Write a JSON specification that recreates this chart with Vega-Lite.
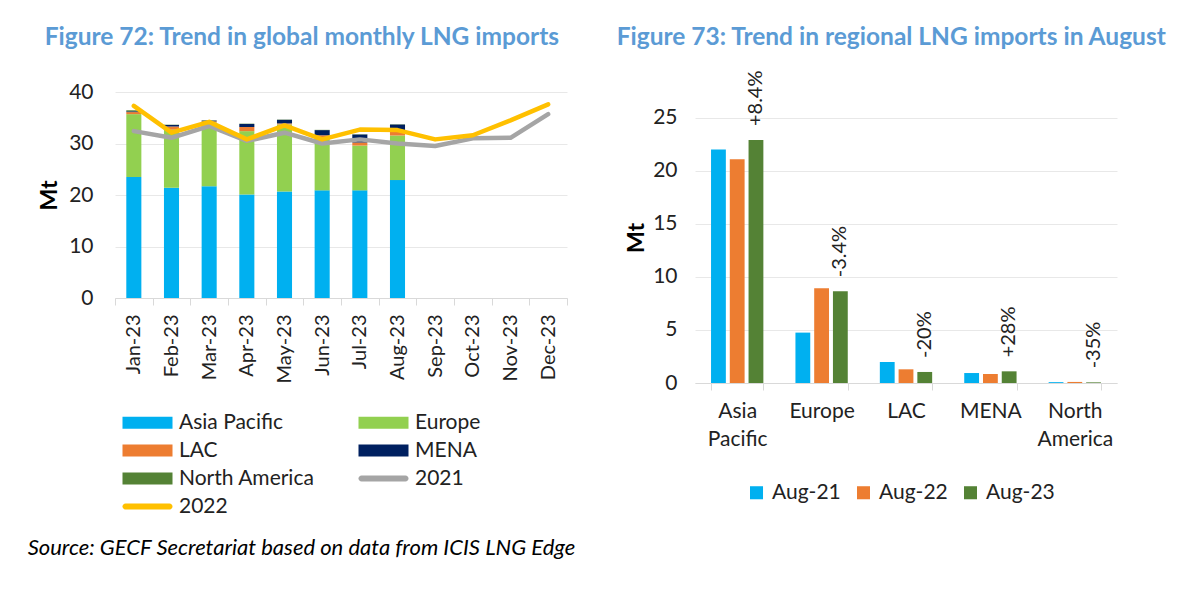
{
  "$schema": "https://vega.github.io/schema/vega-lite/v6.json",
  "background": "white",
  "padding": {"left": 27, "top": 24, "right": 0, "bottom": 0},
  "config": {
    "font": "Lato",
    "view": {"stroke": null},
    "axis": {"labelFont": "Lato", "labelColor": "#222222", "titleColor": "#000000", "titleFont": "Lato", "gridColor": "#E8E8E8", "domainColor": "#D9D9D9", "tickColor": "#D9D9D9"},
    "axisY": {"domain": false, "ticks": false, "labelFontSize": 21, "titleFontSize": 23, "titleFontWeight": "bold", "gridWidth": 1},
    "axisX": {"grid": false, "tickSize": 7, "tickBand": "extent", "labelFontSize": 20, "title": null},
    "title": {"font": "Lato"},
    "legend": {"labelFont": "Lato"}
  },
  "resolve": {"scale": {"color": "independent"}, "legend": {"color": "independent"}},
  "datasets": {
    "monthly": [
      {"month": "Jan-23", "series": "Asia Pacific", "value": 23.5},
      {"month": "Jan-23", "series": "Europe", "value": 12.2},
      {"month": "Jan-23", "series": "LAC", "value": 0.4},
      {"month": "Jan-23", "series": "MENA", "value": 0.15},
      {"month": "Jan-23", "series": "North America", "value": 0.2},
      {"month": "Feb-23", "series": "Asia Pacific", "value": 21.4},
      {"month": "Feb-23", "series": "Europe", "value": 11.3},
      {"month": "Feb-23", "series": "LAC", "value": 0.6},
      {"month": "Feb-23", "series": "MENA", "value": 0.3},
      {"month": "Feb-23", "series": "North America", "value": 0.05},
      {"month": "Mar-23", "series": "Asia Pacific", "value": 21.7},
      {"month": "Mar-23", "series": "Europe", "value": 12.4},
      {"month": "Mar-23", "series": "LAC", "value": 0.2},
      {"month": "Mar-23", "series": "MENA", "value": 0.15},
      {"month": "Mar-23", "series": "North America", "value": 0.05},
      {"month": "Apr-23", "series": "Asia Pacific", "value": 20.1},
      {"month": "Apr-23", "series": "Europe", "value": 12.3},
      {"month": "Apr-23", "series": "LAC", "value": 0.8},
      {"month": "Apr-23", "series": "MENA", "value": 0.6},
      {"month": "Apr-23", "series": "North America", "value": 0.05},
      {"month": "May-23", "series": "Asia Pacific", "value": 20.7},
      {"month": "May-23", "series": "Europe", "value": 13.0},
      {"month": "May-23", "series": "LAC", "value": 0.2},
      {"month": "May-23", "series": "MENA", "value": 0.7},
      {"month": "May-23", "series": "North America", "value": 0.05},
      {"month": "Jun-23", "series": "Asia Pacific", "value": 20.9},
      {"month": "Jun-23", "series": "Europe", "value": 10.3},
      {"month": "Jun-23", "series": "LAC", "value": 0.4},
      {"month": "Jun-23", "series": "MENA", "value": 1.0},
      {"month": "Jun-23", "series": "North America", "value": 0.05},
      {"month": "Jul-23", "series": "Asia Pacific", "value": 20.9},
      {"month": "Jul-23", "series": "Europe", "value": 8.7},
      {"month": "Jul-23", "series": "LAC", "value": 0.6},
      {"month": "Jul-23", "series": "MENA", "value": 1.55},
      {"month": "Jul-23", "series": "North America", "value": 0.05},
      {"month": "Aug-23", "series": "Asia Pacific", "value": 22.9},
      {"month": "Aug-23", "series": "Europe", "value": 8.65},
      {"month": "Aug-23", "series": "LAC", "value": 1.04},
      {"month": "Aug-23", "series": "MENA", "value": 1.1},
      {"month": "Aug-23", "series": "North America", "value": 0.05}
    ],
    "lines": [
      {"month": "Jan-23", "series": "2021", "value": 32.4},
      {"month": "Feb-23", "series": "2021", "value": 31.1},
      {"month": "Mar-23", "series": "2021", "value": 33.4},
      {"month": "Apr-23", "series": "2021", "value": 30.5},
      {"month": "May-23", "series": "2021", "value": 32.1},
      {"month": "Jun-23", "series": "2021", "value": 30.0},
      {"month": "Jul-23", "series": "2021", "value": 30.8},
      {"month": "Aug-23", "series": "2021", "value": 30.0},
      {"month": "Sep-23", "series": "2021", "value": 29.5},
      {"month": "Oct-23", "series": "2021", "value": 31.0},
      {"month": "Nov-23", "series": "2021", "value": 31.1},
      {"month": "Dec-23", "series": "2021", "value": 35.7},
      {"month": "Jan-23", "series": "2022", "value": 37.3},
      {"month": "Feb-23", "series": "2022", "value": 32.1},
      {"month": "Mar-23", "series": "2022", "value": 34.2},
      {"month": "Apr-23", "series": "2022", "value": 30.8},
      {"month": "May-23", "series": "2022", "value": 33.5},
      {"month": "Jun-23", "series": "2022", "value": 30.8},
      {"month": "Jul-23", "series": "2022", "value": 32.7},
      {"month": "Aug-23", "series": "2022", "value": 32.6},
      {"month": "Sep-23", "series": "2022", "value": 30.8},
      {"month": "Oct-23", "series": "2022", "value": 31.6},
      {"month": "Nov-23", "series": "2022", "value": 34.5},
      {"month": "Dec-23", "series": "2022", "value": 37.6}
    ],
    "regional": [
      {"region": "Asia Pacific", "year": "Aug-21", "value": 22.0},
      {"region": "Asia Pacific", "year": "Aug-22", "value": 21.1},
      {"region": "Asia Pacific", "year": "Aug-23", "value": 22.9},
      {"region": "Europe", "year": "Aug-21", "value": 4.75},
      {"region": "Europe", "year": "Aug-22", "value": 8.93},
      {"region": "Europe", "year": "Aug-23", "value": 8.65},
      {"region": "LAC", "year": "Aug-21", "value": 1.98},
      {"region": "LAC", "year": "Aug-22", "value": 1.29},
      {"region": "LAC", "year": "Aug-23", "value": 1.04},
      {"region": "MENA", "year": "Aug-21", "value": 0.94},
      {"region": "MENA", "year": "Aug-22", "value": 0.85},
      {"region": "MENA", "year": "Aug-23", "value": 1.1},
      {"region": "North America", "year": "Aug-21", "value": 0.08},
      {"region": "North America", "year": "Aug-22", "value": 0.1},
      {"region": "North America", "year": "Aug-23", "value": 0.06}
    ],
    "labels": [
      {"region": "Asia Pacific", "year": "Aug-23", "value": 22.9, "label": "+8.4%"},
      {"region": "Europe", "year": "Aug-23", "value": 8.65, "label": "-3.4%"},
      {"region": "LAC", "year": "Aug-23", "value": 1.04, "label": "-20%"},
      {"region": "MENA", "year": "Aug-23", "value": 1.1, "label": "+28%"},
      {"region": "North America", "year": "Aug-23", "value": 0.06, "label": "-35%"}
    ]
  },
  "title": {
    "text": "Source: GECF Secretariat based on data from ICIS LNG Edge",
    "orient": "bottom", "anchor": "start", "fontStyle": "italic", "fontWeight": "normal",
    "fontSize": 22, "color": "#000000", "offset": 21, "dx": -11
  },
  "spacing": 48,
  "hconcat": [
    {
      "width": 452,
      "height": 206,
      "title": {"text": "Figure 72: Trend in global monthly LNG imports", "fontSize": 24.5, "fontWeight": "bold", "color": "#5B9BD5", "offset": 31, "anchor": "start", "dx": 6},
      "layer": [
        {
          "data": {"name": "monthly"},
          "mark": {"type": "bar", "width": {"band": 0.4}},
          "encoding": {
            "x": {"field": "month", "type": "nominal", "sort": null,
              "scale": {"domain": ["Jan-23","Feb-23","Mar-23","Apr-23","May-23","Jun-23","Jul-23","Aug-23","Sep-23","Oct-23","Nov-23","Dec-23"], "paddingInner": 0, "paddingOuter": 0},
              "axis": {"labelAngle": 270, "labelAlign": "right", "labelBaseline": "middle", "labelPadding": 9}},
            "y": {"field": "value", "type": "quantitative", "stack": "zero",
              "scale": {"domain": [0, 40], "nice": false},
              "axis": {"values": [0, 10, 20, 30, 40], "title": "Mt", "labelPadding": 22, "titlePadding": 7}},
            "order": {"field": "series", "sort": "ascending"},
            "color": {"field": "series", "type": "nominal",
              "scale": {"domain": ["Asia Pacific","Europe","LAC","MENA","North America","2021","2022"], "range": ["#00B0F0","#92D050","#ED7D31","#002060","#548235","#A5A5A5","#FFC000"]},
              "legend": {
                "orient": "none", "legendX": 22, "legendY": 320, "columns": 2, "direction": "horizontal",
                "title": null, "symbolType": "M-5,-1.2H5V1.2H-5Z", "symbolSize": 100, "symbolStrokeWidth": 0,
                "labelFontSize": 21, "labelColor": "#222222", "labelOffset": 21, "rowPadding": 6, "columnPadding": 43,
                "encode": {"symbols": {"update": {
                  "shape": [{"test": "datum.value === '2021' || datum.value === '2022'", "value": "M-4.4,-0.6H4.4A0.6,0.6 0 0 1 4.4,0.6H-4.4A0.6,0.6 0 0 1 -4.4,-0.6Z"}, {"value": "M-5,-1.2H5V1.2H-5Z"}],
                  "fill": {"scale": "color", "field": "value"},
                  "stroke": {"value": "transparent"},
                  "opacity": {"value": 1}
                }}}
              }}
          }
        },
        {
          "data": {"name": "lines"},
          "mark": {"type": "line", "strokeWidth": 4.5, "strokeJoin": "round", "strokeCap": "round"},
          "encoding": {
            "x": {"field": "month", "type": "nominal", "sort": null},
            "y": {"field": "value", "type": "quantitative"},
            "color": {"field": "series", "type": "nominal"}
          }
        }
      ]
    },
    {
      "width": 422,
      "height": 291,
      "title": {"text": "Figure 73: Trend in regional LNG imports in August", "fontSize": 24.5, "fontWeight": "bold", "color": "#5B9BD5", "offset": 20, "anchor": "start", "dx": -9},
      "layer": [
        {
          "data": {"name": "regional"},
          "mark": {"type": "bar"},
          "encoding": {
            "x": {"field": "region", "type": "nominal", "sort": null,
              "scale": {"domain": ["Asia Pacific","Europe","LAC","MENA","North America"], "paddingInner": 0.38, "paddingOuter": 0.19},
              "axis": {"labelAngle": 0, "labelExpr": "split(datum.label, ' ')", "labelLineHeight": 28, "labelPadding": 10, "labelBaseline": "top", "labelFontSize": 21}},
            "xOffset": {"field": "year", "type": "nominal", "scale": {"domain": ["Aug-21","Aug-22","Aug-23"], "paddingInner": 0.21, "paddingOuter": 0}},
            "y": {"field": "value", "type": "quantitative",
              "scale": {"domain": [0, 27.43], "nice": false},
              "axis": {"values": [0, 5, 10, 15, 20, 25], "title": "Mt", "labelPadding": 18, "titlePadding": 4}},
            "color": {"field": "year", "type": "nominal",
              "scale": {"domain": ["Aug-21","Aug-22","Aug-23"], "range": ["#00B0F0","#ED7D31","#548235"]},
              "legend": {"orient": "none", "legendX": 51, "legendY": 390, "direction": "horizontal", "title": null,
                "symbolType": "square", "symbolSize": 170, "symbolStrokeWidth": 0, "labelFontSize": 21, "labelColor": "#222222", "labelOffset": 5, "columnPadding": 12}}
          }
        },
        {
          "data": {"name": "labels"},
          "mark": {"type": "text", "angle": 270, "align": "left", "baseline": "middle", "dx": 14, "fontSize": 20, "color": "#222222"},
          "encoding": {
            "x": {"field": "region", "type": "nominal", "sort": null},
            "xOffset": {"field": "year", "type": "nominal"},
            "y": {"field": "value", "type": "quantitative"},
            "text": {"field": "label"}
          }
        }
      ]
    }
  ]
}
